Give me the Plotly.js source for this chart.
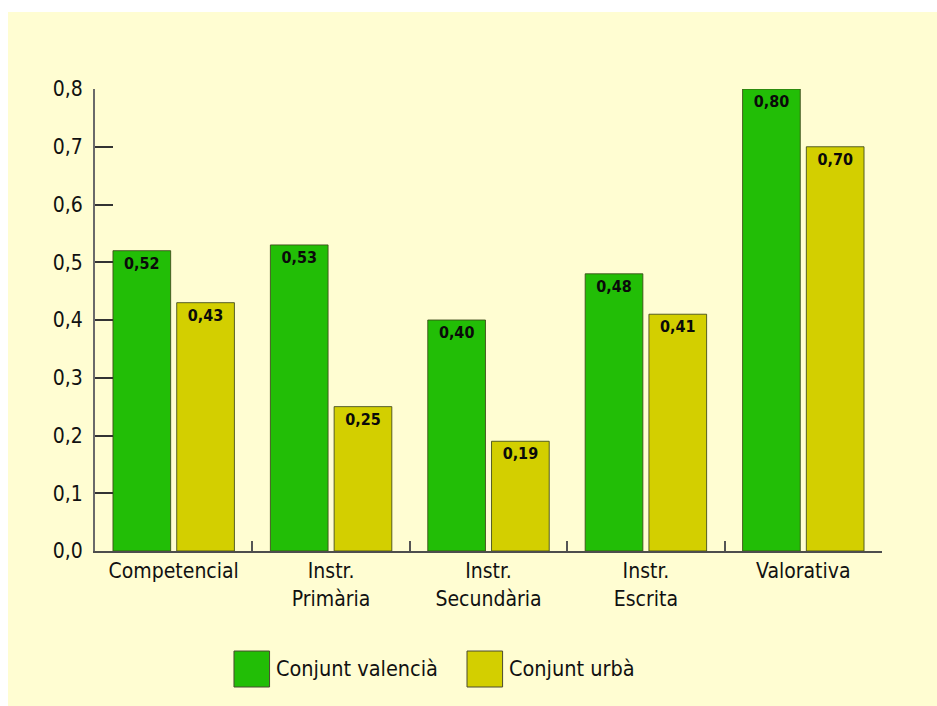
<!DOCTYPE html>
<html>
<head>
<meta charset="utf-8">
<script src="https://cdn.plot.ly/plotly-3.0.1.min.js"></script>
<style>
  html, body { margin: 0; padding: 0; background: #ffffff; width: 937px; height: 706px; overflow: hidden; }
  #chart { position: absolute; left: 8px; top: 12px; width: 929px; height: 694px; }
</style>
</head>
<body>
<div id="chart"></div>
<script>
const categories = ["Competencial", "Instr.<br>Primària", "Instr.<br>Secundària", "Instr.<br>Escrita", "Valorativa"];
const valencia = [0.52, 0.53, 0.40, 0.48, 0.80];
const urba = [0.43, 0.25, 0.19, 0.41, 0.70];
const seriesNames = ["Conjunt valencià", "Conjunt urbà"];
const seriesColors = ["#22BE06", "#D3CF00"];
const yTicks = [0, 0.1, 0.2, 0.3, 0.4, 0.5, 0.6, 0.7, 0.8];

const FONT = "DejaVu Sans Condensed, DejaVu Sans, sans-serif";
const TXT = "#111111";

function barTrace(name, vals, color) {
  return {
    type: "bar",
    name: name,
    x: categories,
    y: vals,
    marker: { color: color, line: { color: "rgba(60,70,25,0.85)", width: 1 } },
    texttemplate: "<b>%{y:.2f}</b>",
    textposition: "inside",
    insidetextanchor: "end",
    textangle: 0,
    insidetextfont: { family: FONT, size: 16, color: "#0a0a0a" },
    hoverinfo: "skip",
    cliponaxis: false
  };
}

const traces = [
  barTrace(seriesNames[0], valencia, seriesColors[0]),
  barTrace(seriesNames[1], urba, seriesColors[1])
];

// custom legend (large swatches)
const legX = [0.1766, 0.4727];
const legW = 0.0452;
const shapes = [];
const annotations = [];
seriesNames.forEach((n, i) => {
  shapes.push({
    type: "rect", xref: "paper", yref: "paper",
    x0: legX[i], x1: legX[i] + legW, y0: -0.2944, y1: -0.2165,
    fillcolor: seriesColors[i], line: { color: "#4a4a30", width: 1 }
  });
  annotations.push({
    xref: "paper", yref: "paper", x: legX[i] + legW + 0.006, y: -0.2545,
    xanchor: "left", yanchor: "middle", showarrow: false,
    text: n, font: { family: FONT, size: 21.5, color: TXT }
  });
});

const layout = {
  width: 929, height: 694,
  margin: { l: 87, r: 55, t: 77, b: 155 },
  paper_bgcolor: "#FFFDD2",
  plot_bgcolor: "#FFFDD2",
  separators: ",.",
  showlegend: false,
  barmode: "group",
  bargap: 0.19,
  bargroupgap: 0.095,
  font: { family: FONT, size: 21, color: TXT },
  xaxis: {
    type: "category",
    showline: true, linecolor: "#4d4d4d", linewidth: 2,
    ticks: "inside", tickson: "boundaries", ticklen: 10, tickwidth: 2, tickcolor: "#555",
    showgrid: false, zeroline: false,
    tickfont: { family: FONT, size: 21, color: TXT },
    fixedrange: true
  },
  yaxis: {
    range: [0, 0.8],
    tickvals: yTicks,
    tickformat: ".1f",
    showline: true, linecolor: "#6a6a6a", linewidth: 2,
    ticks: "inside", ticklen: 18, tickwidth: 2, tickcolor: "#333",
    ticklabelstandoff: 6,
    showgrid: false, zeroline: false,
    tickfont: { family: FONT, size: 21, color: TXT },
    fixedrange: true
  },
  shapes: shapes,
  annotations: annotations
};

Plotly.newPlot("chart", traces, layout, { displayModeBar: false, staticPlot: true });
</script>
</body>
</html>
